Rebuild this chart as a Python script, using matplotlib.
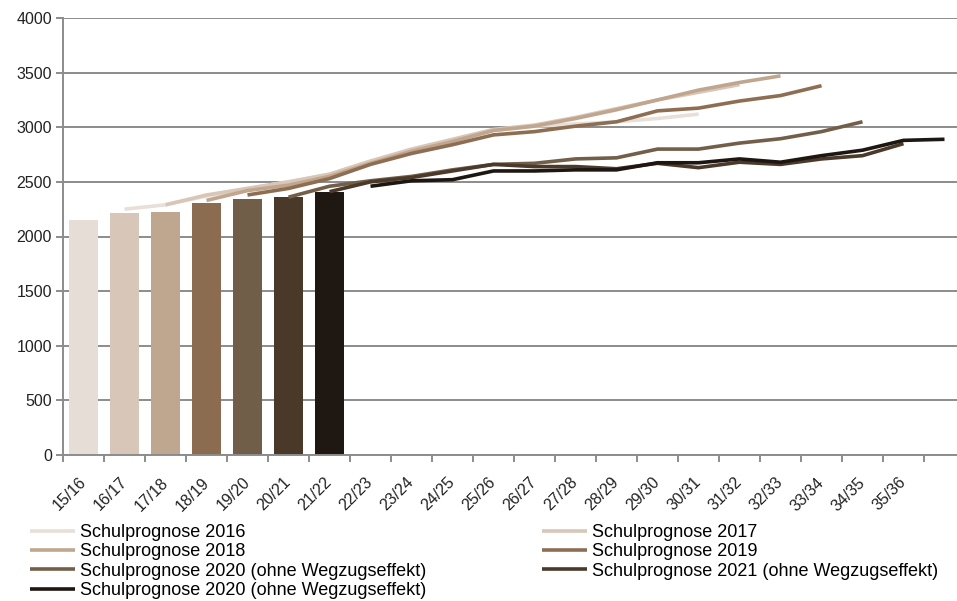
import matplotlib.pyplot as plt
import numpy as np

plt.rcParams['font.family'] = ['Liberation Sans', 'DejaVu Sans']

# school years (one extra slot on the right for the last projected value)
years = ['15/16', '16/17', '17/18', '18/19', '19/20', '20/21', '21/22', '22/23',
         '23/24', '24/25', '25/26', '26/27', '27/28', '28/29', '29/30', '30/31',
         '31/32', '32/33', '33/34', '34/35', '35/36', '']

# actual pupil numbers (bars)
actual = [2150, 2215, 2225, 2310, 2345, 2365, 2410]
bar_colors = ['#E6DDD6', '#D8C7B8', '#BFA68F', '#8B6C50', '#715E48', '#4A3829', '#1F1712']

# projections
prog_2016 = [2250, 2290, 2370, 2440, 2500, 2570, 2690, 2790, 2880, 2970, 3010, 3030, 3050, 3080, 3120]
prog_2017 = [2290, 2380, 2440, 2500, 2570, 2690, 2800, 2890, 2980, 3020, 3090, 3170, 3250, 3320, 3390]
prog_2018 = [2330, 2420, 2470, 2550, 2670, 2780, 2870, 2970, 3010, 3080, 3160, 3250, 3340, 3410, 3470]
prog_2019 = [2380, 2440, 2530, 2660, 2760, 2840, 2930, 2960, 3010, 3050, 3150, 3175, 3240, 3290, 3380]
prog_2020 = [2360, 2460, 2510, 2550, 2610, 2660, 2670, 2710, 2720, 2800, 2800, 2855, 2895, 2960, 3050]
prog_2021 = [2410, 2500, 2540, 2600, 2660, 2640, 2640, 2620, 2670, 2630, 2680, 2660, 2710, 2740, 2850]
prog_2020b = [2460, 2510, 2520, 2600, 2600, 2610, 2610, 2675, 2675, 2710, 2680, 2740, 2790, 2880, 2890]

# (label, first year index, values, colour)
series = [
    ('Schulprognose 2016', 1, prog_2016, '#E8DFD8'),
    ('Schulprognose 2017', 2, prog_2017, '#D8C6B6'),
    ('Schulprognose 2018', 3, prog_2018, '#C0A68E'),
    ('Schulprognose 2019', 4, prog_2019, '#8E6E52'),
    ('Schulprognose 2020 (ohne Wegzugseffekt)', 5, prog_2020, '#735F49'),
    ('Schulprognose 2021 (ohne Wegzugseffekt)', 6, prog_2021, '#4B392A'),
    ('Schulprognose 2020 (ohne Wegzugseffekt)', 7, prog_2020b, '#1E1611'),
]

fig = plt.figure(figsize=(9.57, 6.01), dpi=100)
ax = fig.add_axes([63 / 957, 1 - 455 / 601, 902 / 957, 437 / 601])

ax.bar(np.arange(len(actual)), actual, width=0.7, color=bar_colors, zorder=2)

hl = []
for label, start, vals, col in series:
    x = np.arange(start, start + len(vals))
    h, = ax.plot(x, vals, color=col, lw=2.6, solid_capstyle='butt', zorder=3)
    hl.append((h, label))

ax.set_xlim(-0.5, len(years) - 0.5)
ax.set_ylim(0, 4000)
ax.set_yticks(np.arange(0, 4001, 500))
ax.yaxis.grid(True, color='#8C8C8C', lw=1.4, zorder=0)
ax.set_axisbelow(True)

# tick marks between categories, labels at category centres
ax.set_xticks(np.arange(-0.5, len(years), 1))
ax.set_xticklabels([])
ax.set_xticks(np.arange(len(years)), minor=True)
ax.set_xticklabels(years, minor=True, rotation=45, ha='right', va='center',
                   rotation_mode='anchor', fontsize=11.5, color='#222222')
ax.tick_params(axis='x', which='major', length=5, width=1.4, color='#8C8C8C', direction='out')
ax.tick_params(axis='x', which='minor', length=0, pad=18)
ax.tick_params(axis='y', length=5, width=1.4, color='#8C8C8C', labelsize=11.5,
               labelcolor='#222222', pad=3)

for s in ['top', 'right']:
    ax.spines[s].set_visible(False)
for s in ['left', 'bottom']:
    ax.spines[s].set_color('#8C8C8C')
    ax.spines[s].set_linewidth(1.4)

left = [hl[0], hl[2], hl[4], hl[6]]
right = [hl[1], hl[3], hl[5]]
leg_kw = dict(frameon=False, fontsize=13, handlelength=2.5, handletextpad=0.25,
              labelspacing=0.13, borderaxespad=0, borderpad=0)
fig.legend([h for h, _ in left], [l for _, l in left], loc='upper left',
           bbox_to_anchor=(30 / 957, 1 - 524 / 601), **leg_kw)
fig.legend([h for h, _ in right], [l for _, l in right], loc='upper left',
           bbox_to_anchor=(542 / 957, 1 - 524 / 601), **leg_kw)

fig.savefig('out.png', dpi=100)
